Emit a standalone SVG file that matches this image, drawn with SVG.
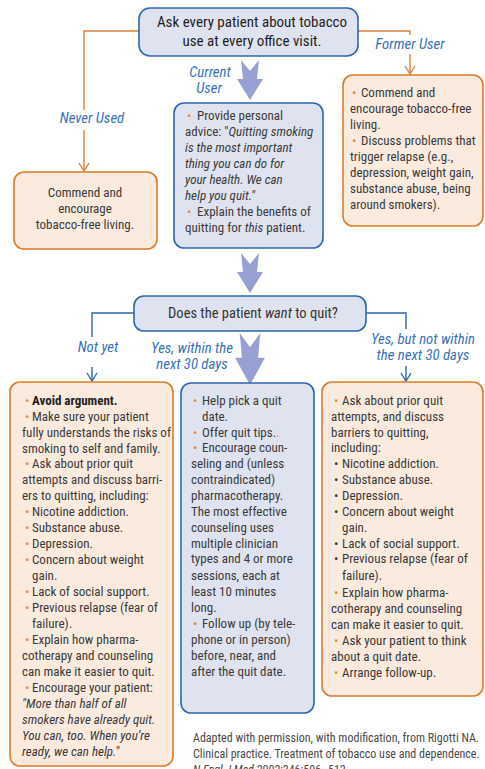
<svg xmlns="http://www.w3.org/2000/svg" width="485" height="769" viewBox="0 0 485 769">
<defs>
<style>
text{font-family:"Liberation Sans Narrow","Arial Narrow","Roboto Condensed","Liberation Sans",sans-serif;}
.t{font-size:13px;fill:#3a3a3a;}
.hd{font-size:15px;fill:#1e1e1e;}
.lbl{font-size:14.8px;fill:#3a72b8;font-style:italic;}
.b{fill:#f08a3c;}
.k{fill:#3a3a3a;}
.i{font-style:italic;}
.bx{fill:#dfe3ef;stroke:#2d67ae;stroke-width:1.6;}
.ox{fill:#fbebdf;stroke:#dd7b2a;stroke-width:1.6;}
.oc{fill:none;stroke:#d9823a;stroke-width:1.4;}
.bc{fill:none;stroke:#2d67ae;stroke-width:1.4;}
.ar{fill:#97a1d1;}
.cite{font-size:12px;fill:#4a4a4a;}
</style>
<marker id="mo" viewBox="0 0 12 12" refX="10" refY="6" markerWidth="12" markerHeight="12" markerUnits="userSpaceOnUse" orient="auto">
<path d="M2,1 L10,6 L2,11" fill="none" stroke="#d9823a" stroke-width="1.4"/>
</marker>
<marker id="mb" viewBox="0 0 12 12" refX="10" refY="6" markerWidth="12" markerHeight="12" markerUnits="userSpaceOnUse" orient="auto">
<path d="M2,1 L10,6 L2,11" fill="none" stroke="#2d67ae" stroke-width="1.4"/>
</marker>
<path id="big" d="M -9,0 L 0,11 L 9,0 L 7,19 L 13,19 L 0,40 L -13,19 L -7,19 Z"/>
</defs>
<rect width="485" height="769" fill="#ffffff"/>

<g id="connectors">
<path class="oc" d="M139,31 H84 V110"/>
<path class="oc" d="M84,130 V171" marker-end="url(#mo)"/>
<path class="oc" d="M358,31 H410 V35"/>
<path class="oc" d="M410,54 V74" marker-end="url(#mo)"/>
<path class="bc" d="M134,313 H92 V337"/>
<path class="bc" d="M92,367 V381" marker-end="url(#mb)"/>
<path class="bc" d="M366,313 H406 V329"/>
<path class="bc" d="M406,366 V381" marker-end="url(#mb)"/>
<use href="#big" class="ar" transform="translate(250,60)"/>
<use href="#big" class="ar" transform="translate(250,253)"/>
<use href="#big" class="ar" transform="translate(250,333) scale(1.15,1.3)"/>
<text class="lbl" x="92" y="123" text-anchor="middle">Never Used</text>
<text class="lbl" x="410" y="49" text-anchor="middle">Former User</text>
<text class="lbl" x="210" y="77" text-anchor="middle">Current</text>
<text class="lbl" x="209" y="93" text-anchor="middle">User</text>
<text class="lbl" x="98" y="352" text-anchor="middle">Not yet</text>
<text class="lbl" x="192" y="353" text-anchor="middle">Yes, within the</text>
<text class="lbl" x="192" y="369" text-anchor="middle">next 30 days</text>
<text class="lbl" x="423" y="344" text-anchor="middle">Yes, but not within</text>
<text class="lbl" x="423" y="360" text-anchor="middle">the next 30 days</text>
</g>

<g id="ask">
<rect class="bx" x="139" y="8" width="219" height="48" rx="11"/>
<text class="hd" x="252" y="27" text-anchor="middle">Ask every patient about tobacco</text>
<text class="hd" x="252" y="46" text-anchor="middle">use at every office visit.</text>
</g>

<g id="never">
<rect class="ox" x="14" y="172" width="143" height="77" rx="10"/>
<text class="t" x="85" y="197" text-anchor="middle">Commend and</text>
<text class="t" x="85" y="213" text-anchor="middle">encourage</text>
<text class="t" x="85" y="229" text-anchor="middle">tobacco-free living.</text>
</g>

<g id="current">
<rect class="bx" x="174" y="103" width="149" height="145" rx="10"/>
<text class="t" x="185" y="120"><tspan class="b" x="187">•</tspan><tspan x="197">Provide personal</tspan></text>
<text class="t" x="185" y="136">advice: "<tspan class="i">Quitting smoking</tspan></text>
<text class="t i" x="185" y="152">is the most important</text>
<text class="t i" x="185" y="168">thing you can do for</text>
<text class="t i" x="185" y="184">your health. We can</text>
<text class="t i" x="185" y="200">help you quit."</text>
<text class="t" x="185" y="216"><tspan class="b" x="187">•</tspan><tspan x="197">Explain the benefits of</tspan></text>
<text class="t" x="185" y="232">quitting for <tspan class="i">this</tspan> patient.</text>
</g>

<g id="former">
<rect class="ox" x="343" y="75" width="140" height="151" rx="10"/>
<text class="t" x="350" y="97"><tspan class="b" x="352">•</tspan><tspan x="361">Commend and</tspan></text>
<text class="t" x="350" y="113">encourage tobacco-free</text>
<text class="t" x="350" y="129">living.</text>
<text class="t" x="350" y="145"><tspan class="b" x="352">•</tspan><tspan x="361">Discuss problems that</tspan></text>
<text class="t" x="350" y="161">trigger relapse (e.g.,</text>
<text class="t" x="350" y="177">depression, weight gain,</text>
<text class="t" x="350" y="193">substance abuse, being</text>
<text class="t" x="350" y="209">around smokers).</text>
</g>

<g id="question">
<rect class="bx" x="134" y="296" width="232" height="35" rx="10"/>
<text class="hd" x="253" y="318" text-anchor="middle" style="font-size:14.5px;fill:#333">Does the patient <tspan class="i">want</tspan> to quit?</text>
</g>

<g id="notyet">
<rect class="ox" x="10" y="382" width="163" height="384" rx="10"/>
<text class="t" y="405"><tspan class="b" x="25">•</tspan><tspan x="32" font-weight="bold" fill="#222">Avoid argument.</tspan></text>
<text class="t" y="421"><tspan class="b" x="25">•</tspan><tspan x="32">Make sure your patient</tspan></text>
<text class="t" x="22" y="437">fully understands the risks of</text>
<text class="t" x="22" y="453">smoking to self and family.</text>
<text class="t" y="468"><tspan class="b" x="25">•</tspan><tspan x="32">Ask about prior quit</tspan></text>
<text class="t" x="22" y="484">attempts and discuss barri-</text>
<text class="t" x="22" y="500">ers to quitting, including:</text>
<text class="t" y="516"><tspan class="b" x="25">•</tspan><tspan x="32">Nicotine addiction.</tspan></text>
<text class="t" y="532"><tspan class="b" x="25">•</tspan><tspan x="32">Substance abuse.</tspan></text>
<text class="t" y="548"><tspan class="b" x="25">•</tspan><tspan x="32">Depression.</tspan></text>
<text class="t" y="564"><tspan class="b" x="25">•</tspan><tspan x="32">Concern about weight</tspan></text>
<text class="t" x="32" y="580">gain.</text>
<text class="t" y="596"><tspan class="b" x="25">•</tspan><tspan x="32">Lack of social support.</tspan></text>
<text class="t" y="612"><tspan class="b" x="25">•</tspan><tspan x="32">Previous relapse (fear of</tspan></text>
<text class="t" x="32" y="628">failure).</text>
<text class="t" y="644"><tspan class="b" x="25">•</tspan><tspan x="32">Explain how pharma-</tspan></text>
<text class="t" x="22" y="660">cotherapy and counseling</text>
<text class="t" x="22" y="676">can make it easier to quit.</text>
<text class="t" y="692"><tspan class="b" x="25">•</tspan><tspan x="32">Encourage your patient:</tspan></text>
<text class="t i" x="22" y="708">"More than half of all</text>
<text class="t i" x="22" y="724">smokers have already quit.</text>
<text class="t i" x="22" y="740">You can, too. When you’re</text>
<text class="t i" x="22" y="756">ready, we can help."</text>
</g>

<g id="within30">
<rect class="bx" x="181" y="383" width="133" height="330" rx="10"/>
<text class="t" y="405"><tspan class="b" x="193">•</tspan><tspan x="202">Help pick a quit</tspan></text>
<text class="t" x="202" y="421">date.</text>
<text class="t" y="437"><tspan class="b" x="193">•</tspan><tspan x="202">Offer quit tips.<tspan class="b">.</tspan></tspan></text>
<text class="t" y="452"><tspan class="b" x="193">•</tspan><tspan x="202">Encourage coun-</tspan></text>
<text class="t" x="191" y="468">seling and (unless</text>
<text class="t" x="191" y="484">contraindicated)</text>
<text class="t" x="191" y="500">pharmacotherapy.</text>
<text class="t" x="191" y="516">The most effective</text>
<text class="t" x="191" y="532">counseling uses</text>
<text class="t" x="191" y="548">multiple clinician</text>
<text class="t" x="191" y="563">types and 4 or more</text>
<text class="t" x="191" y="580">sessions, each at</text>
<text class="t" x="191" y="596">least 10 minutes</text>
<text class="t" x="191" y="612">long.</text>
<text class="t" y="628"><tspan class="b" x="193">•</tspan><tspan x="202">Follow up (by tele-</tspan></text>
<text class="t" x="191" y="644">phone or in person)</text>
<text class="t" x="191" y="660">before, near, and</text>
<text class="t" x="191" y="676">after the quit date.</text>
</g>

<g id="notwithin30">
<rect class="ox" x="322" y="382" width="161" height="314" rx="10"/>
<text class="t" y="405"><tspan class="b" x="334">•</tspan><tspan x="342">Ask about prior quit</tspan></text>
<text class="t" x="331" y="421">attempts, and discuss</text>
<text class="t" x="331" y="437">barriers to quitting,</text>
<text class="t" x="331" y="452">including:</text>
<text class="t" y="468"><tspan class="k" x="334">•</tspan><tspan x="342">Nicotine addiction.</tspan></text>
<text class="t" y="484"><tspan class="k" x="334">•</tspan><tspan x="342">Substance abuse.</tspan></text>
<text class="t" y="500"><tspan class="k" x="334">•</tspan><tspan x="342">Depression.</tspan></text>
<text class="t" y="516"><tspan class="k" x="334">•</tspan><tspan x="342">Concern about weight</tspan></text>
<text class="t" x="342" y="532">gain.</text>
<text class="t" y="548"><tspan class="k" x="334">•</tspan><tspan x="342">Lack of social support.</tspan></text>
<text class="t" y="563"><tspan class="k" x="334">•</tspan><tspan x="342">Previous relapse (fear of</tspan></text>
<text class="t" x="342" y="580">failure).</text>
<text class="t" y="597"><tspan class="b" x="334">•</tspan><tspan x="342">Explain how pharma-</tspan></text>
<text class="t" x="331" y="613">cotherapy and counseling</text>
<text class="t" x="331" y="629">can make it easier to quit.</text>
<text class="t" y="645"><tspan class="b" x="334">•</tspan><tspan x="342">Ask your patient to think</tspan></text>
<text class="t" x="331" y="661">about a quit date.</text>
<text class="t" y="677"><tspan class="b" x="334">•</tspan><tspan x="342">Arrange follow-up.</tspan></text>
</g>

<g id="citation">
<text class="cite" x="193" y="742">Adapted with permission, with modification, from Rigotti NA.</text>
<text class="cite" x="193" y="758">Clinical practice. Treatment of tobacco use and dependence.</text>
<text class="cite" x="193" y="774"><tspan class="i">N Engl J Med</tspan> 2002;346:506–512.</text>
</g>
</svg>
